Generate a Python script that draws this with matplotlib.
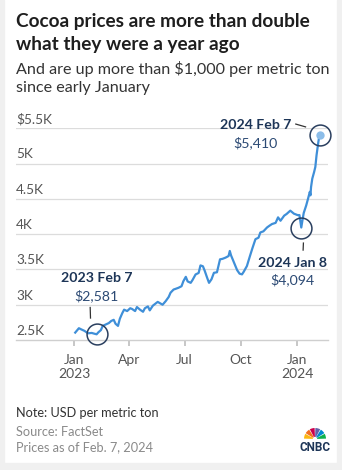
import matplotlib
matplotlib.use("Agg")
import matplotlib.pyplot as plt
from matplotlib.patches import Circle, Wedge, Rectangle
import datetime as dt

# daily cocoa prices (USD per metric ton)
dates = ["2023-01-03", "2023-01-09", "2023-01-13", "2023-01-18", "2023-01-24",
         "2023-01-30", "2023-02-03", "2023-02-07", "2023-02-10", "2023-02-14",
         "2023-02-17", "2023-02-22", "2023-02-27", "2023-03-03", "2023-03-07",
         "2023-03-10", "2023-03-14", "2023-03-17", "2023-03-21", "2023-03-24",
         "2023-03-29", "2023-04-03", "2023-04-06", "2023-04-11", "2023-04-14",
         "2023-04-19", "2023-04-24", "2023-04-27", "2023-05-02", "2023-05-05",
         "2023-05-10", "2023-05-15", "2023-05-18", "2023-05-22", "2023-05-26",
         "2023-05-31", "2023-06-05", "2023-06-08", "2023-06-13", "2023-06-16",
         "2023-06-21", "2023-06-26", "2023-06-29", "2023-07-03", "2023-07-06",
         "2023-07-11", "2023-07-14", "2023-07-19", "2023-07-24", "2023-07-27",
         "2023-07-31", "2023-08-03", "2023-08-07", "2023-08-10", "2023-08-14",
         "2023-08-18", "2023-08-23", "2023-08-28", "2023-09-01", "2023-09-06",
         "2023-09-11", "2023-09-13", "2023-09-15", "2023-09-20", "2023-09-25",
         "2023-09-29", "2023-10-03", "2023-10-06", "2023-10-11", "2023-10-16",
         "2023-10-20", "2023-10-25", "2023-10-30", "2023-11-02", "2023-11-07",
         "2023-11-13", "2023-11-17", "2023-11-21", "2023-11-27", "2023-12-01",
         "2023-12-05", "2023-12-11", "2023-12-15", "2023-12-21", "2023-12-27",
         "2024-01-02", "2024-01-05", "2024-01-08", "2024-01-10", "2024-01-12",
         "2024-01-16", "2024-01-19", "2024-01-22", "2024-01-23", "2024-01-24",
         "2024-01-26", "2024-01-29", "2024-01-31", "2024-02-02", "2024-02-05",
         "2024-02-07"]
prices = [2605, 2667, 2650, 2630, 2595,
          2600, 2590, 2581, 2610, 2640,
          2700, 2720, 2740, 2770, 2786,
          2730, 2700, 2800, 2880, 2930,
          2910, 2950, 2940, 2910, 2967,
          2930, 2900, 2950, 2976, 2920,
          2986, 3020, 3040, 3020, 3000,
          3050, 3110, 3170, 3215, 3224,
          3240, 3262, 3333, 3395, 3330,
          3310, 3350, 3429, 3450, 3557,
          3545, 3480, 3380, 3310, 3360,
          3452, 3460, 3643, 3650, 3667,
          3690, 3762, 3700, 3595, 3490,
          3440, 3430, 3470, 3548, 3690,
          3800, 3929, 3950, 4024, 4040,
          4095, 4120, 4143, 4160, 4238,
          4190, 4262, 4286, 4333, 4290,
          4270, 4270, 4094, 4200, 4300,
          4405, 4500, 4600, 4550, 4667,
          4786, 4880, 4952, 5119, 5310,
          5410]

y_ticks = [2500, 3000, 3500, 4000, 4500, 5000, 5500]
y_labels = ["2.5K", "3K", "3.5K", "4K", "4.5K", "5K", "$5.5K"]
x_ticks = ["2023-01-01", "2023-04-01", "2023-07-01", "2023-10-01", "2024-01-01"]
x_labels = ["Jan\n2023", "Apr", "Jul", "Oct", "Jan\n2024"]

# highlighted points: (date, price, title, label)
callouts = [("2023-02-07", 2581, "2023 Feb 7", "$2,581"),
            ("2024-01-08", 4094, "2024 Jan 8", "$4,094"),
            ("2024-02-07", 5410, "2024 Feb 7", "$5,410")]

plt.rcParams['font.family'] = ['Lato', 'DejaVu Sans']

W, H = 342, 470
fig = plt.figure(figsize=(W / 100, H / 100), dpi=100)
fig.patch.set_facecolor("white")

# light grey frame strips at the edges
fig.patches.append(Rectangle((0, 0), 4 / W, 1, transform=fig.transFigure, color="#f0f0f0", zorder=0))
fig.patches.append(Rectangle((1 - 5 / W, 0), 5 / W, 1, transform=fig.transFigure, color="#f0f0f0", zorder=0))
fig.patches.append(Rectangle((0, 0), 1, 7 / H, transform=fig.transFigure, color="#f0f0f0", zorder=0))

def fx(px):
    return px / W

def fy(py):
    return 1 - py / H

NAVY = "#1d3557"
BLUE = "#3f8fd8"

# title + subtitle, one text per line
fig.text(fx(16), fy(27), "Cocoa prices are more than double",
         fontsize=13.7, fontweight="bold", color="#1e1e1e", va="baseline")
fig.text(fx(16), fy(50), "what they were a year ago",
         fontsize=13.7, fontweight="bold", color="#1e1e1e", va="baseline")
fig.text(fx(16), fy(74), "And are up more than $1,000 per metric ton",
         fontsize=11.6, color="#333333", va="baseline")
fig.text(fx(16), fy(92), "since early January",
         fontsize=11.6, color="#333333", va="baseline")

ax_left, ax_right, ax_top, ax_bot = 16, 328, 128.3, 340
ax = fig.add_axes([fx(ax_left), fy(ax_bot), fx(ax_right - ax_left), (ax_bot - ax_top) / H])
ax.set_facecolor("none")

d = [dt.datetime.strptime(s, "%Y-%m-%d") for s in dates]
d0 = dt.datetime(2023, 1, 1)
d1 = dt.datetime(2024, 1, 1)
px_per_day = (297 - 74) / 365.0
xmin = d0 - dt.timedelta(days=(74 - ax_left) / px_per_day)
xmax = d1 + dt.timedelta(days=(ax_right - 297) / px_per_day)
ax.set_xlim(xmin, xmax)
ax.set_ylim(2500, 5500)

for v in y_ticks[1:]:
    ax.axhline(v, color="#dcdcdc", lw=0.9, zorder=1)
for sp in ["top", "right", "left"]:
    ax.spines[sp].set_visible(False)
ax.spines["bottom"].set_color("#cfcfcf")
ax.spines["bottom"].set_linewidth(1.0)

ax.set_yticks([])
for v, lab in zip(y_ticks, y_labels):
    ax.text(0, v + 45, lab, transform=ax.get_yaxis_transform(), ha="left", va="bottom",
            fontsize=9.8, color="#555555")

ax.set_xticks([dt.datetime.strptime(s, "%Y-%m-%d") for s in x_ticks])
ax.set_xticklabels(x_labels, fontsize=10, color="#555555", linespacing=1.25)
ax.tick_params(axis="x", length=4, width=1.2, color="#bdbdbd", pad=6)

ax.plot(d, prices, color=BLUE, lw=1.6, zorder=3, solid_joinstyle="round")

# callouts
cd = [dt.datetime.strptime(c[0], "%Y-%m-%d") for c in callouts]
for c, day in zip(callouts, cd):
    ax.plot([day], [c[1]], marker="o", ms=15, mfc="none", mec="#2a3f5f", mew=1.1,
            clip_on=False, zorder=4)
ax.plot([cd[2]], [callouts[2][1]], marker="o", ms=6, mfc="#8cbde9", mec="none",
        clip_on=False, zorder=5)

def ann(day, val, dx, dy, text, **kw):
    ax.annotate(text, (day, val), xytext=(dx, dy), textcoords="offset pixels",
                annotation_clip=False, ha="center", va="center", fontsize=10.2, **kw)

# 2023 Feb 7: labels above
ann(cd[0], callouts[0][1], 0, 56, callouts[0][2], fontweight="bold", color=NAVY)
ann(cd[0], callouts[0][1], 0, 39, callouts[0][3], color="#2c4a74")
ax.plot([cd[0] - dt.timedelta(days=10.5), cd[0] - dt.timedelta(days=10)],
        [callouts[0][1] + 380, callouts[0][1] + 230], color="#333333", lw=0.9, clip_on=False)

# 2024 Jan 8: labels below
ann(cd[1], callouts[1][1], -9, -35, callouts[1][2], fontweight="bold", color=NAVY)
ann(cd[1], callouts[1][1], -9, -52, callouts[1][3], color="#2c4a74")
ax.plot([cd[1] + dt.timedelta(days=3.5), cd[1] + dt.timedelta(days=3)],
        [callouts[1][1] - 220, callouts[1][1] - 320], color="#333333", lw=0.9, clip_on=False)

# 2024 Feb 7: labels to the left
ann(cd[2], callouts[2][1], -64, 10, callouts[2][2], fontweight="bold", color=NAVY)
ann(cd[2], callouts[2][1], -64, -8, callouts[2][3], color="#2c4a74")
ax.plot([cd[2] - dt.timedelta(days=39), cd[2] - dt.timedelta(days=23)],
        [callouts[2][1] + 150, callouts[2][1] + 110], color="#333333", lw=0.9, clip_on=False)

# footer notes
fig.text(fx(16), fy(417), "Note: USD per metric ton", fontsize=9.2, color="#333333", va="baseline")
fig.text(fx(16), fy(436), "Source: FactSet", fontsize=9.2, color="#8a8a8a", va="baseline")
fig.text(fx(16), fy(451), "Prices as of Feb. 7, 2024", fontsize=9.2, color="#8a8a8a", va="baseline")

# CNBC peacock logo
lax = fig.add_axes([fx(298), fy(452), fx(34), 30 / H])
lax.set_xlim(0, 34)
lax.set_ylim(0, 30)
lax.axis("off")
cols = ["#fcb711", "#f37021", "#cc004c", "#6460aa", "#0089d0", "#0db14b"]
for k, c in enumerate(cols):
    a0 = 180 - k * 30
    lax.add_patch(Wedge((17, 13), 11, a0 - 28, a0 - 2, color=c, lw=0))
lax.add_patch(Circle((17, 13), 2.2, color="white", lw=0))
lax.text(17, 1, "CNBC", ha="center", va="baseline", fontsize=8.5, fontweight="bold",
         color="#1d3557", family=["Roboto", "DejaVu Sans"])

fig.savefig("out.png", dpi=100, facecolor="white")
